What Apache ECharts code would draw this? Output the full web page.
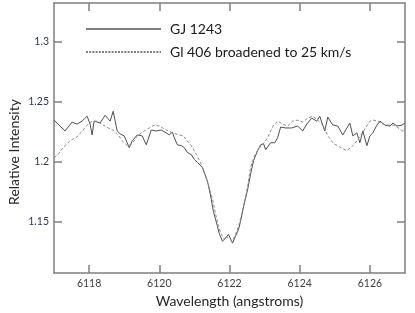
<!DOCTYPE html>
<html>
<head>
<meta charset="utf-8">
<script src="https://cdn.jsdelivr.net/npm/echarts@6/dist/echarts.min.js"></script>
<style>
html,body{margin:0;padding:0;background:#fff;}
#chart{width:415px;height:313px;}
</style>
</head>
<body>
<div id="chart"></div>
<script>
// GJ 1243 (solid)
const gjWave = [6117.000,6117.171,6117.314,6117.514,6117.657,6117.800,6117.943,6118.029,6118.086,6118.143,6118.314,6118.457,6118.600,6118.686,6118.800,6118.886,6119.000,6119.143,6119.229,6119.371,6119.514,6119.629,6119.771,6119.914,6120.057,6120.200,6120.286,6120.371,6120.429,6120.514,6120.629,6120.714,6120.800,6120.914,6121.000,6121.086,6121.229,6121.371,6121.457,6121.543,6121.657,6121.714,6121.800,6121.886,6121.971,6122.086,6122.171,6122.257,6122.314,6122.400,6122.514,6122.600,6122.686,6122.800,6122.886,6122.971,6123.029,6123.171,6123.286,6123.371,6123.457,6123.600,6123.771,6123.943,6124.086,6124.200,6124.343,6124.486,6124.571,6124.714,6124.800,6124.943,6125.086,6125.229,6125.429,6125.514,6125.629,6125.714,6125.800,6125.914,6126.000,6126.086,6126.200,6126.286,6126.429,6126.571,6126.657,6126.771,6126.914,6127.000];
const gjInt = [1.2344,1.2295,1.2254,1.2328,1.2311,1.2336,1.2377,1.2311,1.2221,1.2336,1.2320,1.2385,1.2336,1.2418,1.2254,1.2230,1.2213,1.2115,1.2172,1.2221,1.2213,1.2139,1.2262,1.2254,1.2262,1.2238,1.2221,1.2246,1.2197,1.2139,1.2131,1.2115,1.2074,1.2057,1.2016,1.1992,1.1951,1.1836,1.1721,1.1582,1.1459,1.1393,1.1336,1.1361,1.1393,1.1320,1.1377,1.1434,1.1500,1.1623,1.1762,1.1893,1.2008,1.2090,1.2139,1.2148,1.2098,1.2156,1.2156,1.2197,1.2287,1.2279,1.2279,1.2295,1.2254,1.2311,1.2361,1.2336,1.2377,1.2254,1.2369,1.2303,1.2295,1.2221,1.2320,1.2213,1.2238,1.2156,1.2254,1.2131,1.2213,1.2238,1.2303,1.2336,1.2303,1.2295,1.2320,1.2295,1.2303,1.2320];
// Gl 406 broadened (dashed)
const glWave = [6117.000,6117.114,6117.257,6117.457,6117.657,6117.829,6117.971,6118.086,6118.229,6118.400,6118.543,6118.686,6118.829,6118.943,6119.086,6119.229,6119.371,6119.571,6119.714,6119.857,6120.000,6120.200,6120.371,6120.571,6120.686,6120.771,6120.914,6121.057,6121.171,6121.286,6121.400,6121.514,6121.600,6121.686,6121.743,6121.800,6121.857,6121.914,6122.000,6122.086,6122.171,6122.257,6122.343,6122.429,6122.514,6122.600,6122.714,6122.829,6122.943,6123.086,6123.171,6123.257,6123.371,6123.514,6123.657,6123.800,6123.943,6124.086,6124.229,6124.371,6124.514,6124.657,6124.800,6124.971,6125.171,6125.343,6125.514,6125.629,6125.743,6125.857,6126.000,6126.114,6126.229,6126.371,6126.514,6126.657,6126.771,6126.886,6126.971,6127.000];
const glInt = [1.2033,1.2057,1.2115,1.2172,1.2205,1.2262,1.2311,1.2336,1.2336,1.2303,1.2279,1.2262,1.2221,1.2172,1.2131,1.2148,1.2213,1.2254,1.2279,1.2303,1.2295,1.2262,1.2238,1.2221,1.2213,1.2180,1.2131,1.2057,1.1992,1.1902,1.1803,1.1689,1.1566,1.1459,1.1410,1.1377,1.1352,1.1377,1.1352,1.1336,1.1393,1.1459,1.1557,1.1664,1.1787,1.1951,1.2049,1.2107,1.2139,1.2197,1.2254,1.2303,1.2336,1.2311,1.2295,1.2336,1.2344,1.2328,1.2361,1.2377,1.2344,1.2303,1.2213,1.2148,1.2115,1.2090,1.2131,1.2172,1.2221,1.2270,1.2336,1.2344,1.2336,1.2311,1.2303,1.2303,1.2287,1.2262,1.2246,1.2303];

const xTicks = [6118, 6120, 6122, 6124, 6126];
const yTicks = [1.15, 1.2, 1.25, 1.3];
const seriesNames = ['GJ 1243', 'Gl 406 broadened to 25 km/s'];
const xTitle = 'Wavelength (angstroms)';
const yTitle = 'Relative Intensity';

const FONT = 'Lato';
const axisColor = '#7f7f7f';

const chart = echarts.init(document.getElementById('chart'), null, {renderer: 'canvas'});

function xAx(pos, showLabel) {
  return {
    type: 'value', position: pos, min: 6117, max: 6127,
    splitLine: {show: false},
    axisLine: {show: true, onZero: false, lineStyle: {color: axisColor, width: 1.5}},
    axisTick: {show: true, inside: true, length: 8, customValues: xTicks, lineStyle: {color: axisColor, width: 1.5}},
    axisLabel: {show: showLabel, customValues: xTicks, margin: 5, color: '#404040', fontSize: 10.5, fontFamily: FONT,
      formatter: v => String(v)},
    name: showLabel ? xTitle : '',
    nameLocation: 'middle', nameGap: 16,
    nameTextStyle: {fontSize: 14, color: '#262626', fontFamily: FONT}
  };
}
function yAx(pos, showLabel) {
  return {
    type: 'value', position: pos, min: 1.107, max: 1.332,
    splitLine: {show: false},
    axisLine: {show: true, onZero: false, lineStyle: {color: axisColor, width: 1.5}},
    axisTick: {show: true, inside: true, length: 8, customValues: yTicks, lineStyle: {color: axisColor, width: 1.5}},
    axisLabel: {show: showLabel, customValues: yTicks, margin: 5, color: '#2f3650', fontSize: 10.5, fontFamily: FONT,
      formatter: v => String(v)}
  };
}

chart.setOption({
  animation: false,
  backgroundColor: '#fff',
  grid: {left: 54, right: 10, top: 3, bottom: 36, containLabel: false},
  xAxis: [xAx('bottom', true), xAx('top', false)],
  yAxis: [yAx('left', true), yAx('right', false)],
  series: [
    {
      name: seriesNames[0], type: 'line', showSymbol: false, smooth: false,
      data: gjWave.map((w, i) => [w, gjInt[i]]),
      lineStyle: {color: '#505050', width: 1}
    },
    {
      name: seriesNames[1], type: 'line', showSymbol: false, smooth: false,
      data: glWave.map((w, i) => [w, glInt[i]]),
      lineStyle: {color: '#8a8a8a', width: 1, type: [3, 2]}
    }
  ],
  graphic: [
    {type: 'line', shape: {x1: 86, y1: 29, x2: 161, y2: 29}, style: {stroke: '#000', lineWidth: 1.2}},
    {type: 'text', x: 170, y: 29, style: {text: seriesNames[0], fontSize: 14, fontFamily: FONT, fill: '#1a1a1a', verticalAlign: 'middle'}},
    {type: 'line', shape: {x1: 86, y1: 52, x2: 161, y2: 52}, style: {stroke: '#000', lineWidth: 1, lineDash: [2, 1.2]}},
    {type: 'text', x: 170, y: 52, style: {text: seriesNames[1], fontSize: 14, fontFamily: FONT, fill: '#1a1a1a', verticalAlign: 'middle'}},
    {type: 'text', x: 14, y: 152, rotation: Math.PI / 2,
      style: {text: yTitle, fontSize: 14, fontFamily: FONT, fill: '#262626', align: 'center', verticalAlign: 'middle'}}
  ]
});
</script>
</body>
</html>
